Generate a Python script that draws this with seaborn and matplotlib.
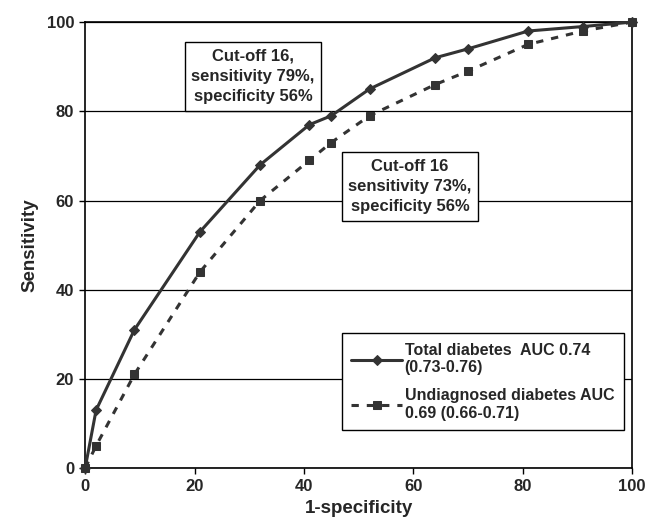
import matplotlib
matplotlib.use("Agg")
import matplotlib.pyplot as plt
import seaborn as sns
import pandas as pd

# values
one_minus_spec = [0, 2, 9, 21, 32, 41, 45, 52, 64, 70, 81, 91, 100]
sens_total = [0, 13, 31, 53, 68, 77, 79, 85, 92, 94, 98, 99, 100]
sens_undiag = [0, 5, 21, 44, 60, 69, 73, 79, 86, 89, 95, 98, 100]

label_total = "Total diabetes  AUC 0.74\n(0.73-0.76)"
label_undiag = "Undiagnosed diabetes AUC\n0.69 (0.66-0.71)"

note_total = "Cut-off 16,\nsensitivity 79%,\nspecificity 56%"
note_undiag = "Cut-off 16\nsensitivity 73%,\nspecificity 56%"

sns.set_style("white")
plt.rcParams['font.family'] = ['Liberation Sans', 'DejaVu Sans']
plt.rcParams['font.weight'] = 'bold'

df_total = pd.DataFrame({'x': one_minus_spec, 'y': sens_total})
df_undiag = pd.DataFrame({'x': one_minus_spec, 'y': sens_undiag})

fig = plt.figure(figsize=(6.55, 5.26), dpi=100)
ax = fig.add_axes([0.130, 0.110, 0.835, 0.848])

line_col = '#333333'
sns.lineplot(data=df_total, x='x', y='y', ax=ax, sort=False, color=line_col,
             lw=2.2, marker='D', markersize=5.5, markeredgecolor=line_col,
             label=label_total, zorder=4, clip_on=False)
sns.lineplot(data=df_undiag, x='x', y='y', ax=ax, sort=False, color=line_col,
             lw=2.2, marker='s', markersize=6, markeredgecolor=line_col,
             label=label_undiag, zorder=3, clip_on=False)
ax.lines[1].set_linestyle((0, (2.4, 2.6)))

ax.set_xlim(0, 100)
ax.set_ylim(0, 100)
ax.set_xticks(range(0, 101, 20))
ax.set_yticks(range(0, 101, 20))
ax.tick_params(axis='both', which='major', labelsize=12, direction='out',
               length=4, width=1, color='black', left=True, bottom=True, pad=4)
for lab in ax.get_xticklabels() + ax.get_yticklabels():
    lab.set_fontweight('bold')

ax.yaxis.grid(True, color='black', lw=0.9)
ax.xaxis.grid(False)
ax.set_axisbelow(True)
for s in ax.spines.values():
    s.set_color('black')
    s.set_linewidth(1.2)
    s.set_visible(True)

ax.set_xlabel('1-specificity', fontsize=13.5, fontweight='bold', labelpad=4)
ax.set_ylabel('Sensitivity', fontsize=13.5, fontweight='bold', labelpad=6)

box = dict(boxstyle='square,pad=0.4', fc='white', ec='black', lw=1.0)
ax.text(30.7, 87.8, note_total, ha='center', va='center', multialignment='center',
        fontsize=12, fontweight='bold', bbox=box, zorder=5, linespacing=1.42)
ax.text(59.4, 63.1, note_undiag, ha='center', va='center', multialignment='center',
        fontsize=12, fontweight='bold', bbox=box, zorder=5, linespacing=1.42)

leg = ax.legend(loc='lower right', bbox_to_anchor=(0.985, 0.085), fontsize=11.5,
                frameon=True, fancybox=False, edgecolor='black', framealpha=1,
                handlelength=3.2, handletextpad=0.15, labelspacing=0.8,
                borderpad=0.6, borderaxespad=0)
leg.get_frame().set_linewidth(1.0)
for t in leg.get_texts():
    t.set_fontweight('bold')

fig.savefig('out.png', dpi=100)
